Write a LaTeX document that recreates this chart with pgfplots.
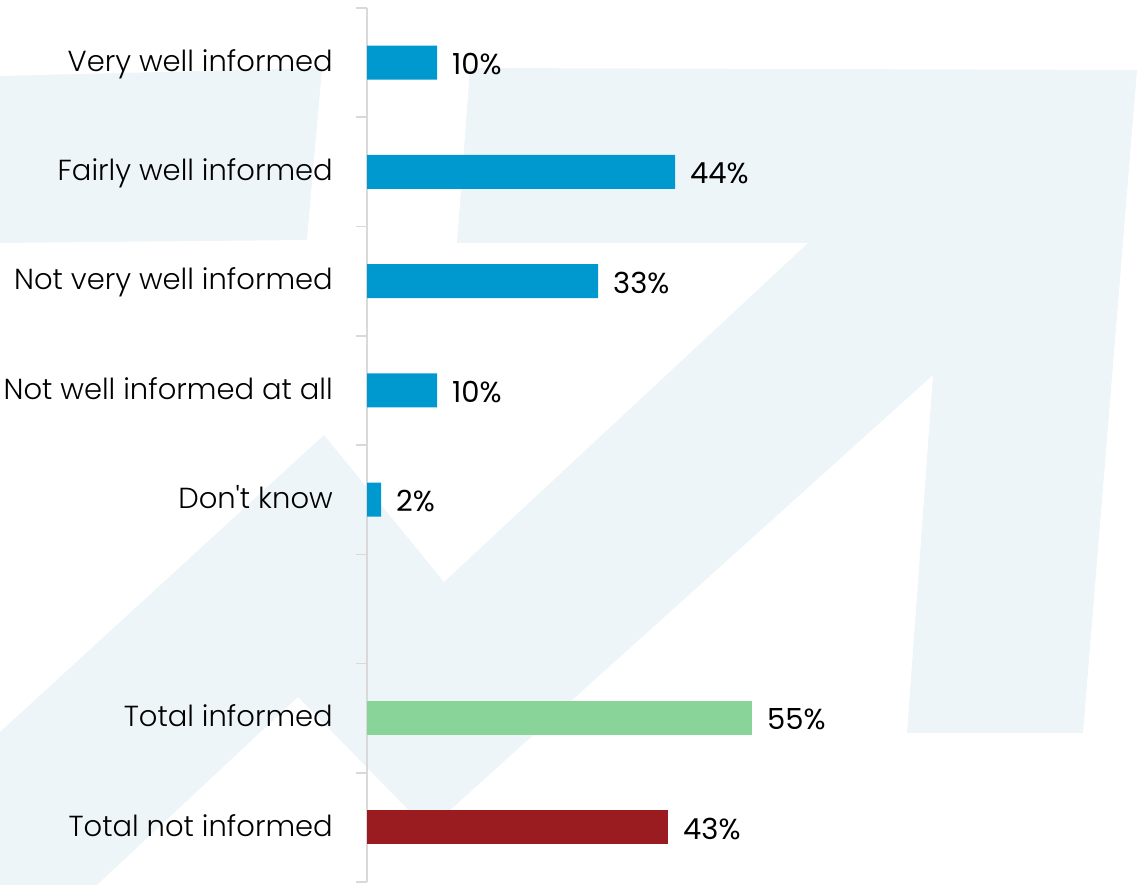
\documentclass[border=0pt]{standalone}
\usepackage{pgfplots}
\pgfplotsset{compat=1.18}
\usepackage{fontspec}
\setmainfont{Poppins}
\newfontfamily\poplight{Poppins Light}
\definecolor{wm}{HTML}{EEF5F9}
\definecolor{barblue}{HTML}{0099CF}
\definecolor{bargreen}{HTML}{88D499}
\definecolor{barred}{HTML}{9B1C20}
\definecolor{axgray}{HTML}{D9D9D9}
\begin{document}
\begin{tikzpicture}[x=1pt,y=1pt]
\path[use as bounding box] (0,0) rectangle (1137,885);
\fill[wm] (470,817) -- (1137,815) -- (1083,152) -- (907,152) -- (933,510) -- (428,55) -- (298,188) -- (97,0) -- (0,0) -- (0,153) -- (324,450) -- (444,303) -- (808,642) -- (457,642) -- cycle;
\fill[wm] (0,809) -- (322,817) -- (307,645) -- (0,642) -- cycle;
\begin{axis}[
 at={(367pt,3pt)}, anchor=south west, scale only axis,
 width=700pt, height=874pt,
 xmin=0, xmax=100, ymin=-0.5, ymax=7.5, y dir=reverse,
 axis x line=none, axis y line*=left,
 y axis line style={draw=axgray, line width=1.5pt},
 ytick={0,1,2,3,4,6,7},
 yticklabels={Very well informed, Fairly well informed, Not very well informed, Not well informed at all, Don\textquotesingle t know, Total informed, Total not informed},
 minor ytick={-0.5,0.5,...,7.5},
 major tick length=0pt, minor tick length=11pt, tick align=outside,
 minor tick style={draw=axgray, line width=1.5pt},
 yticklabel style={font=\fontsize{29}{34}\selectfont\poplight, anchor=base east, inner sep=0pt, xshift=-34pt, yshift=-8.7pt},
 xbar, bar width=34pt, bar shift=0pt,
 point meta=x,
 nodes near coords={\pgfmathprintnumber{\pgfplotspointmeta}\%},
 nodes near coords style={font=\fontsize{29}{34}\selectfont, anchor=west, inner sep=0pt, xshift=15pt, yshift=-1.5pt},
 /pgf/number format/assume math mode=true,
 clip=false,
]
\addplot[fill=barblue, draw=none] coordinates {(10,0) (44,1) (33,2) (10,3) (2,4)};
\addplot[fill=bargreen, draw=none] coordinates {(55,6)};
\addplot[fill=barred, draw=none] coordinates {(43,7)};
\end{axis}
\end{tikzpicture}
\end{document}
